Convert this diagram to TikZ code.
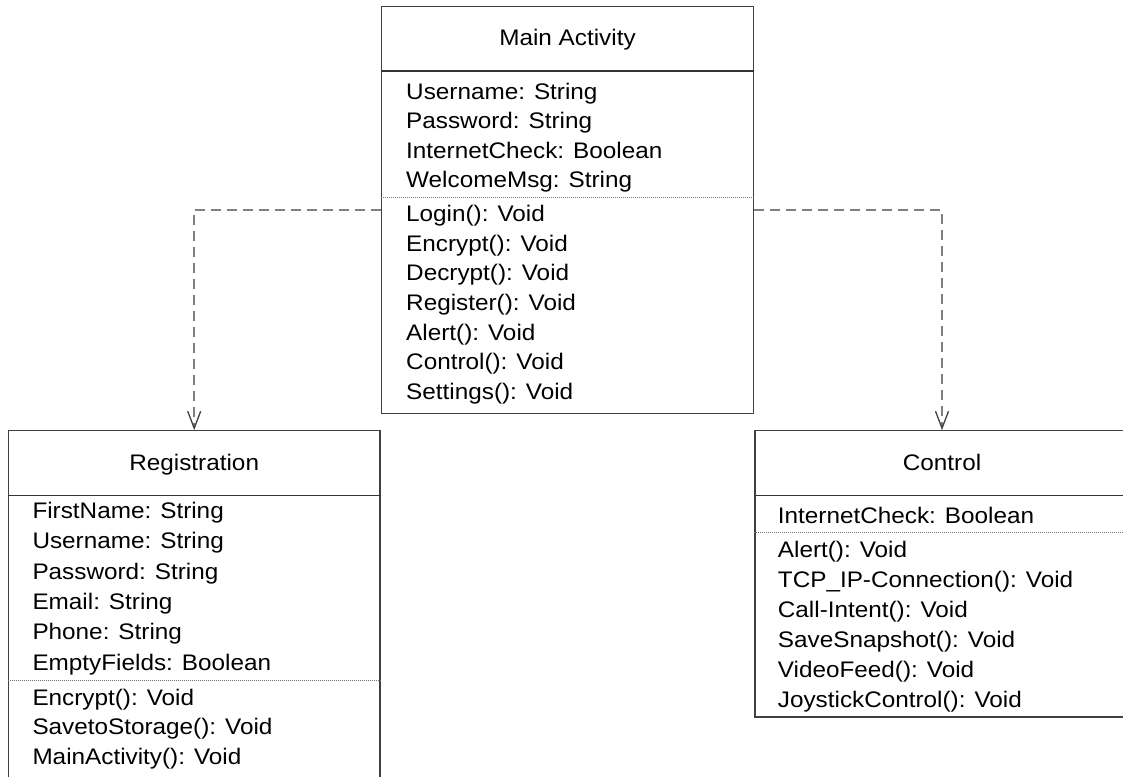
\documentclass[tikz,border=0pt]{standalone}
\usepackage{fontspec}
\setmainfont[FakeStretch=1.08]{Liberation Sans}
\usetikzlibrary{arrows.meta}

\begin{document}
\begin{tikzpicture}[
    x=1pt, y=-1pt,
    classbox/.style={draw=black!75, line width=1.4pt, inner sep=0pt},
    titlesep/.style={draw=black!80, line width=1.4pt},
    dotsep/.style={draw=black!55, line width=0.9pt, dash pattern=on 1pt off 1pt},
    classname/.style={anchor=base, inner sep=0pt, font=\fontsize{22.5}{27}\selectfont},
    member/.style={anchor=base west, inner sep=0pt, font=\fontsize{22.5}{27}\selectfont},
    dep/.style={draw=black!50, line width=1.6pt, dash pattern=on 10pt off 6pt,
      -{Straight Barb[length=17pt, width=13pt, line width=1.3pt, color=black!75]}}
  ]
  \useasboundingbox (0,0) rectangle (1123,776);
  \clip (0,0) rectangle (1123,776);

  % Main Activity
  \node[classbox, minimum width=371.6pt, minimum height=406.6pt] (main) at (567.5,210) {};
  \node[classname] (main-title) at (567.5,45.7) {Main Activity};
  \draw[titlesep] ([yshift=-65pt]main.north west) -- ([yshift=-65pt]main.north east);
  \draw[dotsep] ([yshift=-191pt]main.north west) -- ([yshift=-191pt]main.north east);
  \foreach \t [count=\i] in {Username: String, Password: String, InternetCheck: Boolean, WelcomeMsg: String}
    \node[member] (main-a\i) at (406,{99.3+(\i-1)*29.5}) {\t};
  \foreach \t [count=\i] in {Login(): Void, Encrypt(): Void, Decrypt(): Void, Register(): Void,
      Alert(): Void, Control(): Void, Settings(): Void}
    \node[member] (main-m\i) at (406,{221.7+(\i-1)*29.6}) {\t};

  % Registration
  \node[classbox, minimum width=371.7pt, minimum height=359.3pt] (reg) at (194.2,610.4) {};
  \node[classname] (reg-title) at (194.2,470) {Registration};
  \draw[titlesep] ([yshift=-65.3pt]reg.north west) -- ([yshift=-65.3pt]reg.north east);
  \draw[dotsep] ([yshift=-250.3pt]reg.north west) -- ([yshift=-250.3pt]reg.north east);
  \foreach \t [count=\i] in {FirstName: String, Username: String, Password: String, Email: String,
      Phone: String, EmptyFields: Boolean}
    \node[member] (reg-a\i) at (32.3,{518.3+(\i-1)*30.4}) {\t};
  \foreach \t [count=\i] in {Encrypt(): Void, SavetoStorage(): Void, MainActivity(): Void}
    \node[member] (reg-m\i) at (32.3,{705.5+(\i-1)*29.3}) {\t};

  % Control
  \node[classbox, minimum width=374pt, minimum height=286.3pt] (ctrl) at (942,573.9) {};
  \node[classname] (ctrl-title) at (942,470) {Control};
  \draw[titlesep] ([yshift=-65.3pt]ctrl.north west) -- ([yshift=-65.3pt]ctrl.north east);
  \draw[dotsep] ([yshift=-102pt]ctrl.north west) -- ([yshift=-102pt]ctrl.north east);
  \node[member] (ctrl-a1) at (777.7,523) {InternetCheck: Boolean};
  \foreach \t [count=\i] in {Alert(): Void, TCP\_IP-Connection(): Void, Call-Intent(): Void,
      SaveSnapshot(): Void, VideoFeed(): Void, JoystickControl(): Void}
    \node[member] (ctrl-m\i) at (777.7,{557+(\i-1)*30}) {\t};

  % dependencies
  \draw[dep] (main.west) -| (reg.north);
  \draw[dep] (main.east) -| (ctrl.north);
\end{tikzpicture}
\end{document}
